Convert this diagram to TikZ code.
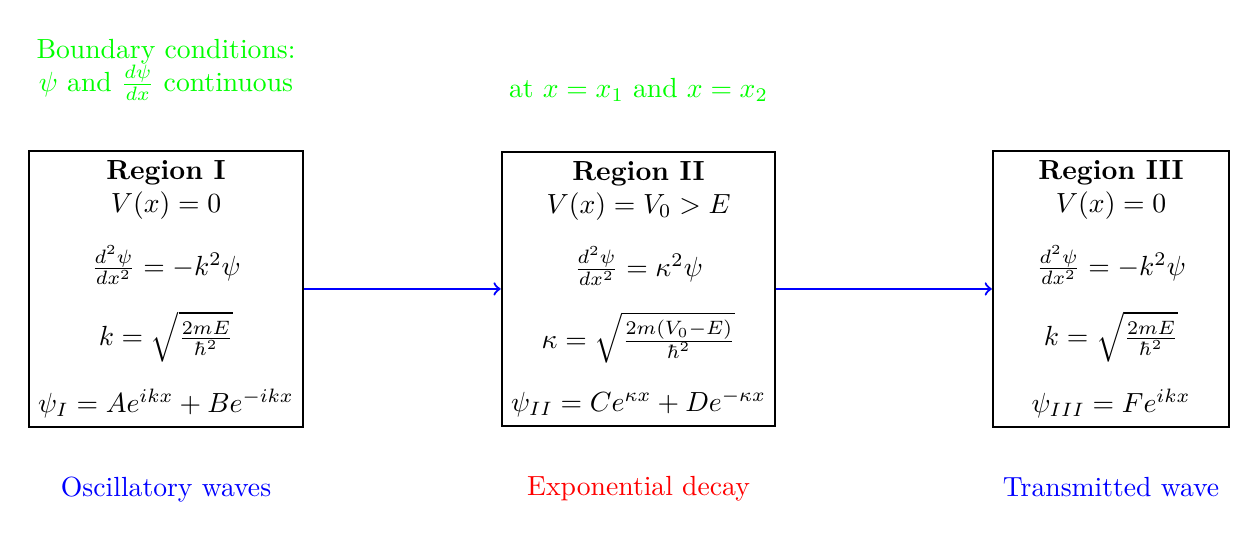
\documentclass[tikz,border=0pt]{standalone}
\usetikzlibrary{positioning}

\begin{document}
\begin{tikzpicture}[
  region/.style={draw, thick, align=center, minimum width=3cm},
  flow/.style={->, thick, blue},
  bcnote/.style={green, align=center},
  waveinfo/.style={align=center}
]
\useasboundingbox (-2.108,-3.187) rectangle (13.878,3.669);

% Regions
\node[region] (reg1) at (0,0) {\textbf{Region I}\\ $V(x) = 0$\\[0.3cm]
  $\frac{d^2\psi}{dx^2} = -k^2\psi$\\[0.3cm]
  $k = \sqrt{\frac{2mE}{\hbar^2}}$\\[0.3cm]
  $\psi_I = Ae^{ikx} + Be^{-ikx}$};
\node[region] (reg2) at (6,0) {\textbf{Region II}\\ $V(x) = V_0 > E$\\[0.3cm]
  $\frac{d^2\psi}{dx^2} = \kappa^2\psi$\\[0.3cm]
  $\kappa = \sqrt{\frac{2m(V_0-E)}{\hbar^2}}$\\[0.3cm]
  $\psi_{II} = Ce^{\kappa x} + De^{-\kappa x}$};
\node[region] (reg3) at (12,0) {\textbf{Region III}\\ $V(x) = 0$\\[0.3cm]
  $\frac{d^2\psi}{dx^2} = -k^2\psi$\\[0.3cm]
  $k = \sqrt{\frac{2mE}{\hbar^2}}$\\[0.3cm]
  $\psi_{III} = Fe^{ikx}$};

% Arrows
\draw[flow] (reg1) -- (reg2);
\draw[flow] (reg2) -- (reg3);

% Boundary conditions
\node[bcnote, above=5mm of reg1] (bc) {Boundary conditions:\\ $\psi$ and $\frac{d\psi}{dx}$ continuous};
\node[bcnote, above=5mm of reg2] (bcat) {at $x = x_1$ and $x = x_2$};

% Wave behaviour
\node[waveinfo, blue, below=5mm of reg1] (osc) {Oscillatory waves};
\node[waveinfo, red, below=5mm of reg2] (decay) {Exponential decay};
\node[waveinfo, blue, below=5mm of reg3] (trans) {Transmitted wave};

\end{tikzpicture}
\end{document}
